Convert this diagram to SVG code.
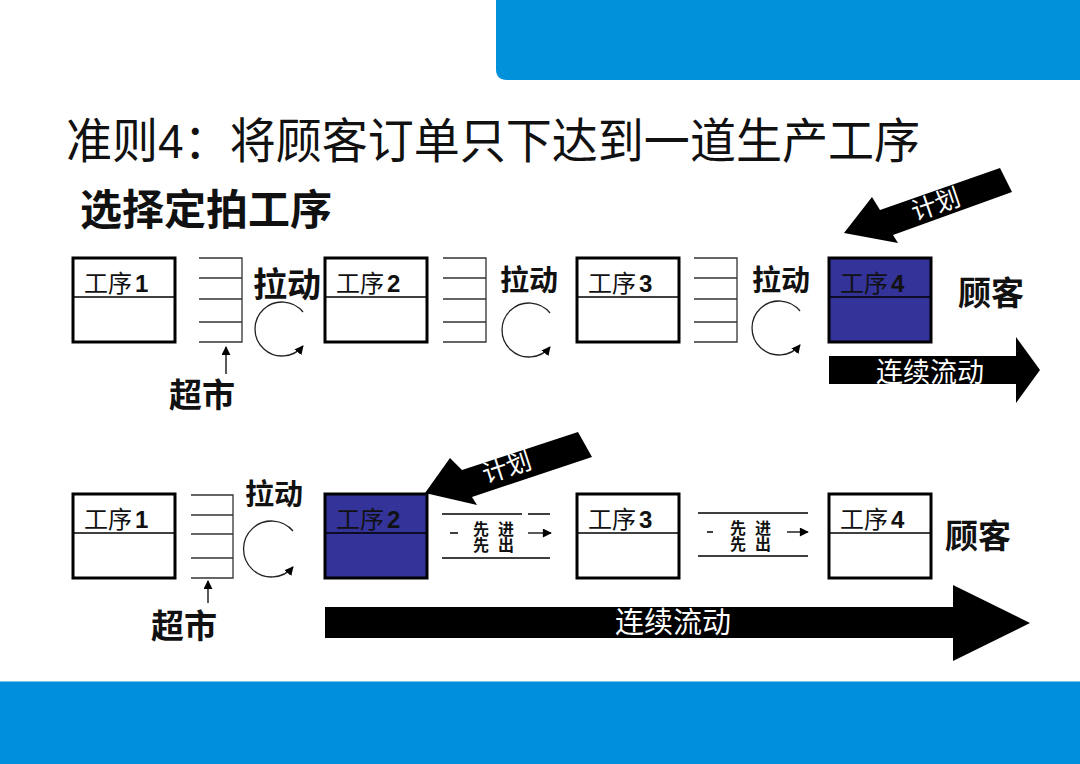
<svg xmlns="http://www.w3.org/2000/svg" width="1080" height="764" viewBox="0 0 1080 764">
  <defs>
    <marker id="ah" viewBox="0 0 10 10" refX="9" refY="5" markerWidth="9" markerHeight="9" markerUnits="userSpaceOnUse" orient="auto">
      <path d="M0,0 L10,5 L0,10 Z" fill="#000"/>
    </marker>
    <marker id="ahs" viewBox="0 0 10 10" refX="9" refY="5" markerWidth="11" markerHeight="9" markerUnits="userSpaceOnUse" orient="auto">
      <path d="M0,0 L10,5 L0,10 Z" fill="#000"/>
    </marker>
  </defs>
  <style>
    .f { font-family: "Liberation Sans", "Noto Sans CJK SC", sans-serif; }
    .box { fill: #fff; stroke: #000; stroke-width: 3; }
    .boxb { fill: #333399; stroke: #000; stroke-width: 3; }
    .div { stroke: #000; stroke-width: 1.3; }
    .lbl { font-size: 24px; fill: #111; }
    .num { font-weight: bold; }
    .big { font-size: 33px; font-weight: bold; fill: #111; }
    .pull { font-size: 29px; font-weight: bold; fill: #111; }
    .shelf { stroke: #333; stroke-width: 1.3; fill: none; }
    .circ { stroke: #222; stroke-width: 1.3; fill: none; }
    .thin { stroke: #000; stroke-width: 1.3; fill: none; }
    .wt { fill: #fff; }
    .fifo { font-size: 16px; font-weight: bold; fill: #111; }
  </style>
  <rect width="1080" height="764" fill="#fff"/>
  <path d="M496 0 H1080 V80 H507 Q496 80 496 69 Z" fill="#0091DA"/>
  <rect x="0" y="681" width="1080" height="83" fill="#008FDC"/>
  <line x1="0" y1="681.5" x2="1080" y2="681.5" stroke="#7cc4ea" stroke-width="1"/>

  <text class="f" x="66" y="158" font-size="48" fill="#111" textLength="854" lengthAdjust="spacingAndGlyphs">准则4：将顾客订单只下达到一道生产工序</text>
  <text class="f" x="80" y="225" font-size="42" font-weight="bold" fill="#111">选择定拍工序</text>

  <!-- top row -->
  <g id="t-p1"><rect class="box" x="73" y="258" width="102" height="84"/><line class="div" x1="73" y1="297" x2="175" y2="297"/><text class="f lbl" x="84" y="292">工序<tspan class="num" dx="3">1</tspan></text></g>
  <g id="t-p2"><rect class="box" x="325" y="258" width="102" height="84"/><line class="div" x1="325" y1="297" x2="427" y2="297"/><text class="f lbl" x="336" y="292">工序<tspan class="num" dx="3">2</tspan></text></g>
  <g id="t-p3"><rect class="box" x="577" y="258" width="102" height="84"/><line class="div" x1="577" y1="297" x2="679" y2="297"/><text class="f lbl" x="588" y="292">工序<tspan class="num" dx="3">3</tspan></text></g>
  <g id="t-p4"><rect class="boxb" x="829" y="258" width="102" height="84"/><line class="div" x1="829" y1="297" x2="931" y2="297"/><text class="f lbl" x="840" y="292">工序<tspan class="num" dx="3">4</tspan></text></g>

  <g id="t-shelf1"><path class="shelf" d="M199 258 H242 V342 H199 M199 278 H242 M199 299 H242 M199 322 H242"/></g>
  <g id="t-shelf2"><path class="shelf" d="M443 258 H486 V342 H443 M443 278 H486 M443 299 H486 M443 322 H486"/></g>
  <g id="t-shelf3"><path class="shelf" d="M694 258 H737 V342 H694 M694 278 H737 M694 299 H737 M694 322 H737"/></g>

  <g id="t-labels">
    <text class="f" x="253" y="297" font-size="34" font-weight="bold" fill="#111">拉动</text>
    <text class="f pull" x="500" y="291">拉动</text>
    <text class="f pull" x="752" y="291">拉动</text>
    <text class="f big" x="169" y="407">超市</text>
    <text class="f big" x="958" y="305">顾客</text>
  </g>

  <!-- bottom row -->
  <g id="b-p1"><rect class="box" x="73" y="494" width="102" height="84"/><line class="div" x1="73" y1="533" x2="175" y2="533"/><text class="f lbl" x="84" y="528">工序<tspan class="num" dx="3">1</tspan></text></g>
  <g id="b-p2"><rect class="boxb" x="325" y="494" width="102" height="84"/><line class="div" x1="325" y1="533" x2="427" y2="533"/><text class="f lbl" x="336" y="528">工序<tspan class="num" dx="3">2</tspan></text></g>
  <g id="b-p3"><rect class="box" x="577" y="494" width="102" height="84"/><line class="div" x1="577" y1="533" x2="679" y2="533"/><text class="f lbl" x="588" y="528">工序<tspan class="num" dx="3">3</tspan></text></g>
  <g id="b-p4"><rect class="box" x="829" y="494" width="102" height="84"/><line class="div" x1="829" y1="533" x2="931" y2="533"/><text class="f lbl" x="840" y="528">工序<tspan class="num" dx="3">4</tspan></text></g>

  <g id="b-shelf1"><path class="shelf" d="M191 495 H233 V578 H191 M191 515 H233 M191 534 H233 M191 558 H233"/></g>

  <g id="b-fifo1">
    <path class="thin" d="M442 514 H522 M528 514 H550 M442 558 H550 M450 533 H458"/>
    <text class="f fifo" x="473" y="535" letter-spacing="9">先进</text>
    <text class="f fifo" x="473" y="551" letter-spacing="9">先出</text>
  </g>
  <g id="b-fifo2">
    <path class="thin" d="M698 513 H808 M698 556 H808 M707 532 H713"/>
    <text class="f fifo" x="730" y="534" letter-spacing="9">先进</text>
    <text class="f fifo" x="730" y="550" letter-spacing="9">先出</text>
  </g>

  <g id="b-labels">
    <text class="f pull" x="245" y="505">拉动</text>
    <text class="f big" x="151" y="638">超市</text>
    <text class="f big" x="945" y="548">顾客</text>
  </g>

  <!-- connectors -->
  <g id="connectors">
    <line class="thin" x1="226" y1="374" x2="226" y2="347" marker-end="url(#ah)"/>
    <line class="thin" x1="208" y1="603" x2="208" y2="581" marker-end="url(#ah)"/>
    <path class="circ" d="M303 312 A27 27 0 1 0 303 346" marker-end="url(#ah)"/>
    <path class="circ" d="M550 313 A27 27 0 1 0 550 347" marker-end="url(#ah)"/>
    <path class="circ" d="M800 311 A27 27 0 1 0 800 345" marker-end="url(#ah)"/>
    <path class="circ" d="M293 531 A28 28 0 1 0 293 567" marker-end="url(#ah)"/>
    <line class="thin" x1="528" y1="533" x2="551" y2="533" marker-end="url(#ahs)"/>
    <line class="thin" x1="787" y1="532" x2="808" y2="532" marker-end="url(#ahs)"/>

    <g id="plan-top">
      <polygon points="844,233 872,197 880,210 1000,168 1012,192 893,235 898,243" fill="#000"/>
      <text class="f wt" x="936" y="213" font-size="25" text-anchor="middle" transform="rotate(-19 936 205)">计划</text>
    </g>
    <g id="plan-bottom">
      <polygon points="425,493 450,458 462,470 578,432 592,457 472,497 477,505" fill="#000"/>
      <text class="f wt" x="507" y="476" font-size="25" text-anchor="middle" transform="rotate(-18 507 468)">计划</text>
    </g>

    <g id="flow-top">
      <polygon points="829,356 1016,356 1016,337 1040,370 1016,403 1016,384 829,384" fill="#000"/>
      <text class="f wt" x="930" y="382" font-size="27" text-anchor="middle">连续流动</text>
    </g>
    <g id="flow-bottom">
      <polygon points="325,607 953,607 953,585 1030,623 953,661 953,638 325,638" fill="#000"/>
      <text class="f wt" x="673" y="633" font-size="29" text-anchor="middle">连续流动</text>
    </g>
  </g>
</svg>
